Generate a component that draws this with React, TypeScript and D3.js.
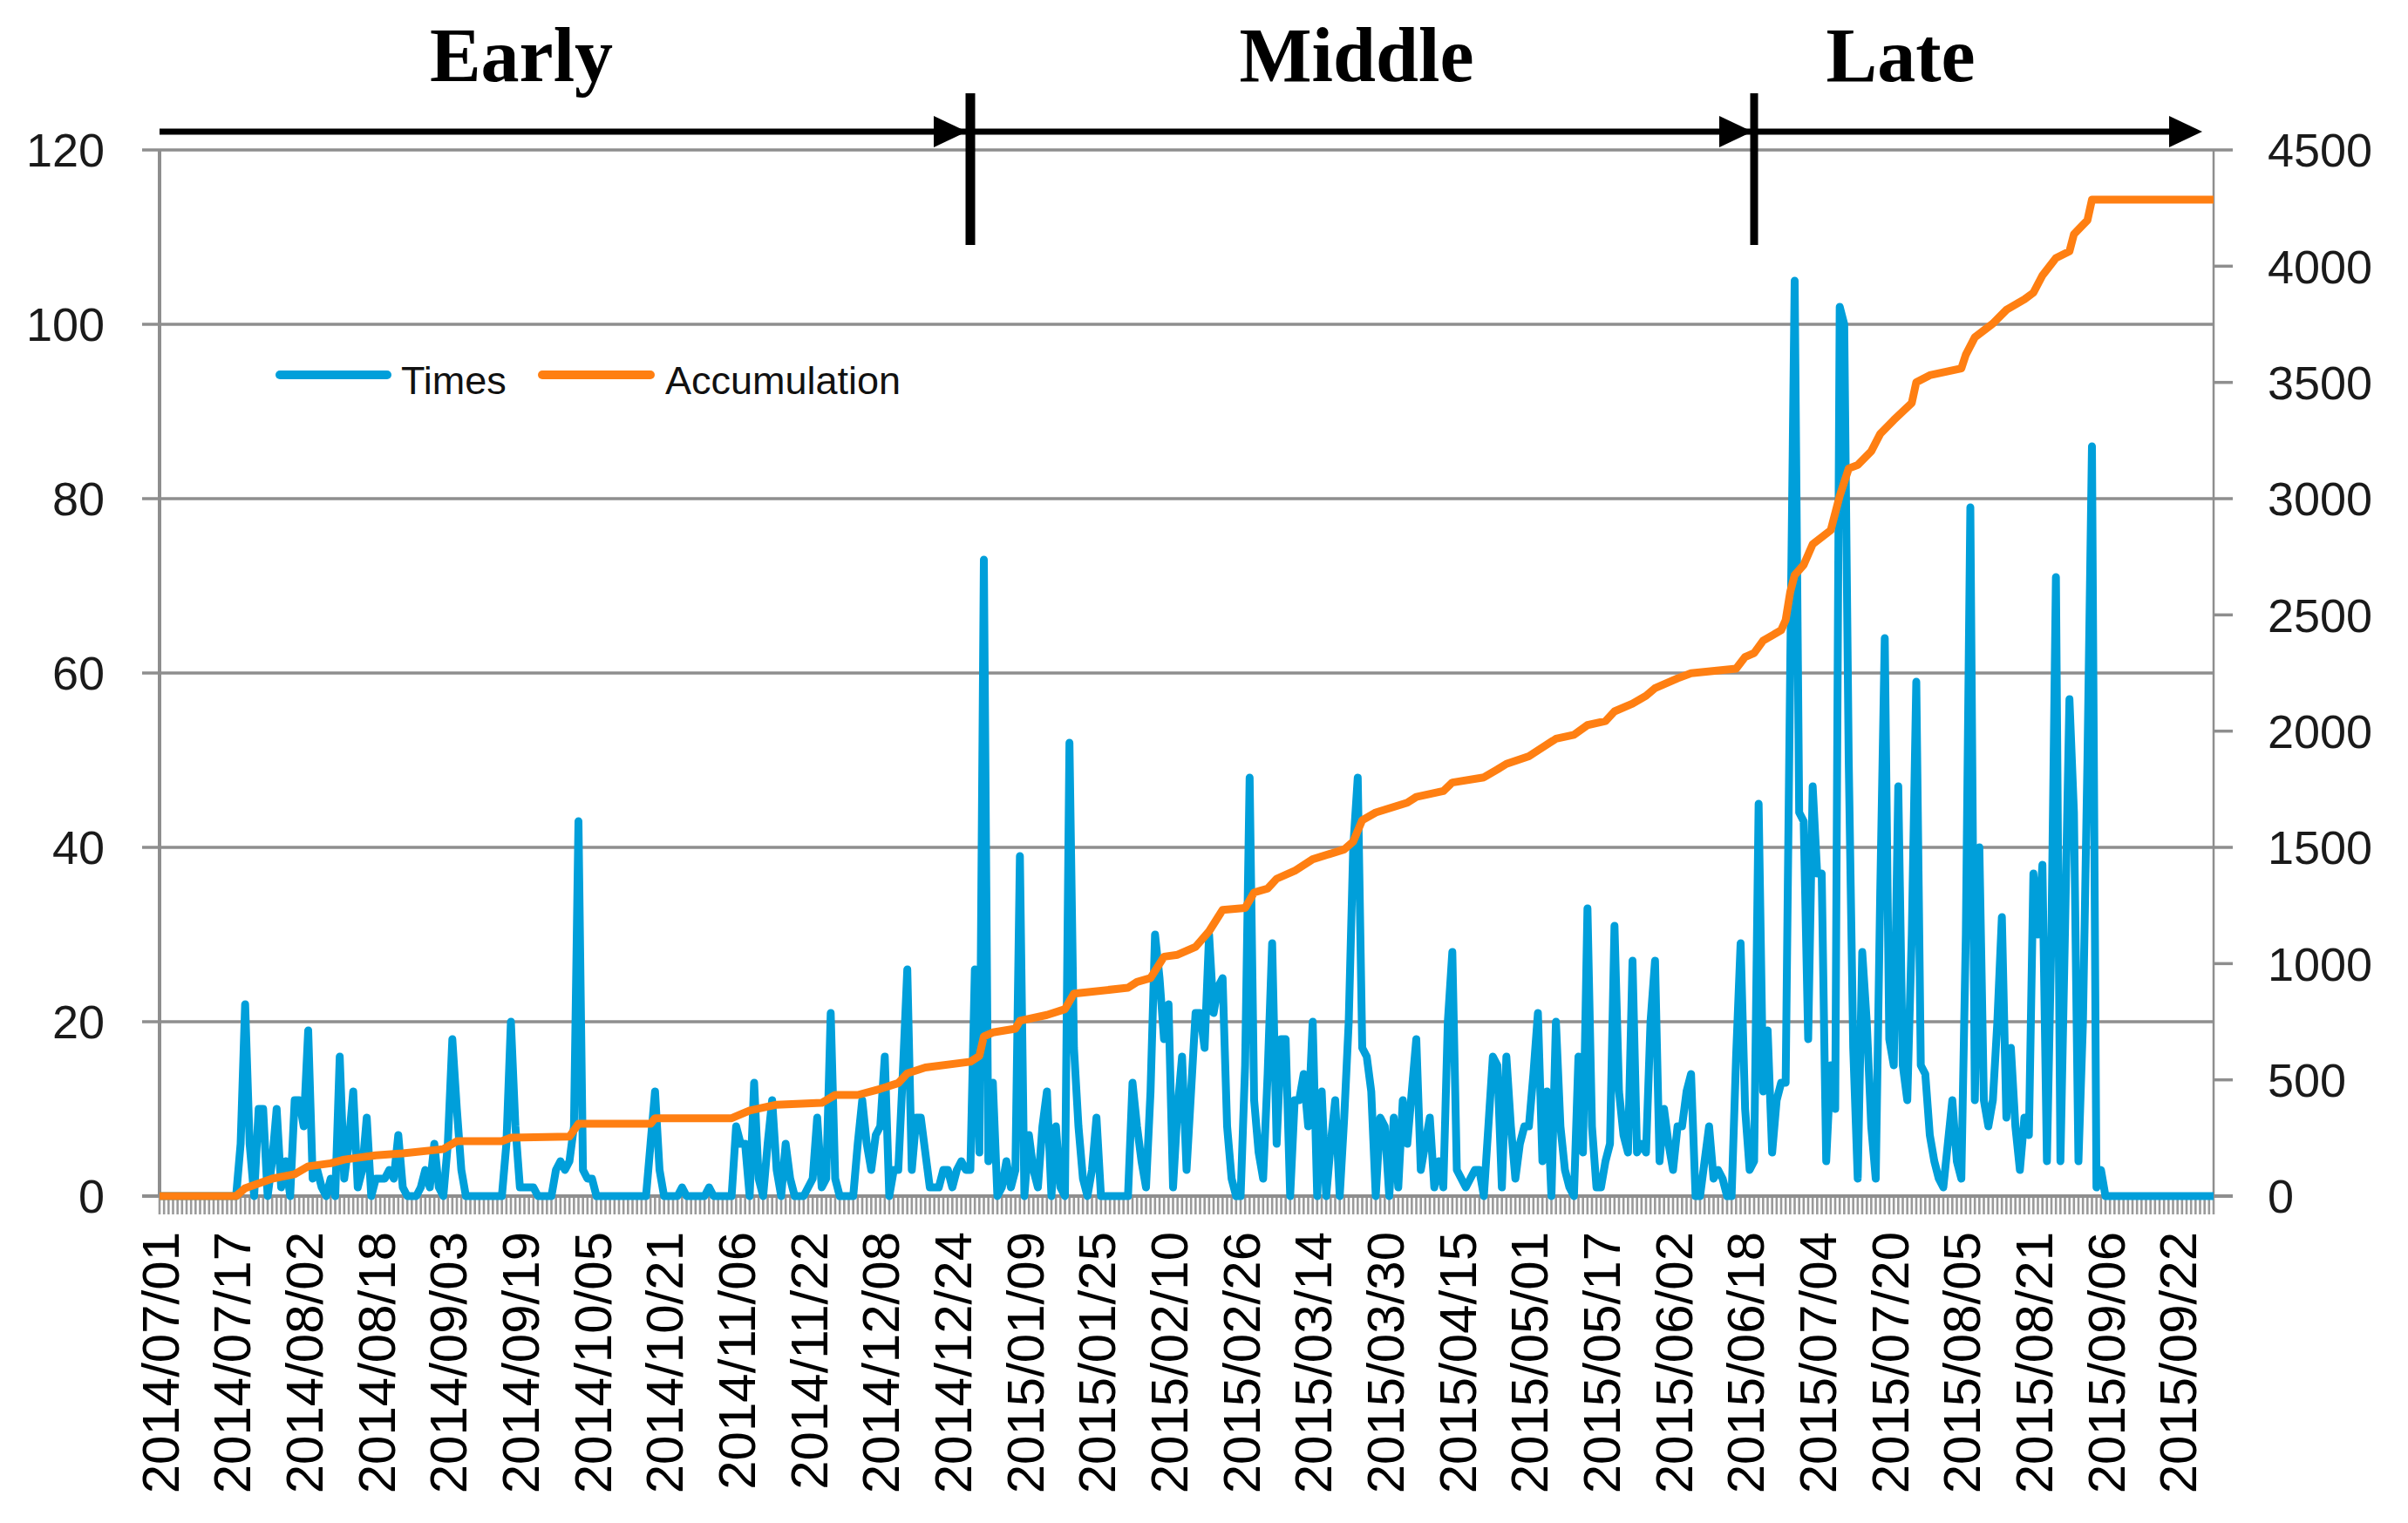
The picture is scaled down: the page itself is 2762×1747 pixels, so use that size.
import React from 'react';
import * as d3 from 'd3';

// ---------- data ----------
const startDate = '2014/07/01';

// daily "Times" values, 2014/07/01 .. 2015/09/30 (457 days)
const times: number[] = [
  0, 0, 0, 0, 0, 0, 0, 0, 0, 0,
  0, 0, 0, 0, 0, 0, 0, 0, 6, 22,
  6, 0, 10, 10, 0, 4, 10, 1, 4, 0,
  11, 11, 8, 19, 2, 3, 1, 0, 2, 0,
  16, 2, 6, 12, 1, 3, 9, 0, 2, 2,
  2, 3, 2, 7, 1, 0, 0, 0, 1, 3,
  1, 6, 1, 0, 6, 18, 10, 3, 0, 0,
  0, 0, 0, 0, 0, 0, 0, 6, 20, 8,
  1, 1, 1, 1, 0, 0, 0, 0, 3, 4,
  3, 4, 8, 43, 3, 2, 2, 0, 0, 0,
  0, 0, 0, 0, 0, 0, 0, 0, 0, 6,
  12, 3, 0, 0, 0, 0, 1, 0, 0, 0,
  0, 0, 1, 0, 0, 0, 0, 0, 8, 6,
  6, 0, 13, 2, 0, 6, 11, 3, 0, 6,
  2, 0, 0, 0, 1, 2, 9, 1, 2, 21,
  2, 0, 0, 0, 0, 6, 11, 6, 3, 7,
  8, 16, 0, 3, 3, 14, 26, 3, 9, 9,
  5, 1, 1, 1, 3, 3, 1, 3, 4, 3,
  3, 26, 5, 73, 4, 13, 0, 1, 4, 1,
  3, 39, 0, 7, 3, 1, 8, 12, 0, 8,
  1, 0, 52, 17, 8, 2, 0, 3, 9, 0,
  0, 0, 0, 0, 0, 0, 13, 8, 4, 1,
  12, 30, 25, 18, 22, 1, 10, 16, 3, 12,
  21, 21, 17, 30, 21, 24, 25, 8, 2, 0,
  0, 15, 48, 11, 5, 2, 14, 29, 6, 18,
  18, 0, 11, 11, 14, 8, 20, 0, 12, 0,
  6, 11, 0, 9, 20, 40, 48, 17, 16, 12,
  0, 9, 8, 0, 9, 1, 11, 6, 12, 18,
  3, 6, 9, 1, 4, 1, 20, 28, 3, 2,
  1, 2, 3, 3, 0, 8, 16, 15, 1, 16,
  8, 2, 6, 8, 8, 14, 21, 4, 12, 0,
  20, 8, 3, 1, 0, 16, 5, 33, 8, 1,
  1, 4, 6, 31, 12, 7, 5, 27, 5, 6,
  5, 20, 27, 4, 10, 6, 3, 8, 8, 12,
  14, 0, 0, 4, 8, 2, 3, 2, 0, 0,
  16, 29, 10, 3, 4, 45, 12, 19, 5, 11,
  13, 13, 60, 105, 44, 43, 18, 47, 37, 37,
  4, 15, 10, 102, 100, 50, 17, 2, 28, 20,
  8, 2, 35, 64, 18, 15, 47, 15, 11, 30,
  59, 15, 14, 7, 4, 2, 1, 6, 11, 4,
  2, 30, 79, 11, 40, 11, 8, 11, 20, 32,
  9, 17, 8, 3, 9, 7, 37, 30, 38, 4,
  30, 71, 4, 30, 57, 44, 4, 20, 50, 86,
  1, 3, 0, 0, 0, 0, 0, 0, 0, 0,
  0, 0, 0, 0, 0, 0, 0, 0, 0, 0,
  0, 0, 0, 0, 0, 0, 0,
];

// "Accumulation": day index (from start date) and value
const accDay: number[] = [
  0, 17, 19, 25, 30, 33, 38, 41, 48, 54, 63, 66, 76, 78, 91, 93, 109, 110, 127, 131,
  137, 147, 150, 155, 160, 164, 166, 170, 180, 182, 183, 185, 190, 191, 197, 201, 203, 215, 217, 220,
  223, 226, 230, 233, 236, 241, 243, 246, 248, 252, 256, 263, 265, 267, 270, 277, 279, 285, 287, 294,
  297, 299, 304, 306, 310, 314, 317, 321, 323, 327, 330, 332, 337, 340, 350, 352, 354, 356, 360, 361,
  362, 363, 365, 367, 369, 371, 373, 375, 377, 380, 382, 385, 389, 390, 393, 400, 401, 403, 407, 410,
  414, 416, 418, 421, 424, 425, 428, 429, 456,
];
const accValue: number[] = [
  0, 0, 34, 75, 94, 128, 141, 157, 175, 184, 202, 236, 236, 251, 256, 311, 311, 335, 335, 368,
  393, 401, 435, 435, 461, 486, 528, 553, 578, 603, 687, 704, 720, 754, 779, 804, 871, 896, 921, 938,
  1030, 1038, 1072, 1139, 1231, 1239, 1306, 1323, 1365, 1399, 1449, 1491, 1525, 1617, 1650, 1692, 1717, 1742, 1779, 1801,
  1835, 1859, 1892, 1917, 1967, 1984, 2026, 2043, 2085, 2118, 2152, 2185, 2227, 2249, 2269, 2319, 2336, 2389, 2434, 2478,
  2597, 2671, 2715, 2804, 2834, 2864, 3012, 3130, 3145, 3204, 3279, 3338, 3412, 3501, 3531, 3560, 3619, 3694, 3753, 3812,
  3857, 3886, 3960, 4035, 4064, 4138, 4198, 4286, 4286,
];

const tickLabels: string[] = [
  '2014/07/01', '2014/07/17', '2014/08/02', '2014/08/18', '2014/09/03', '2014/09/19',
  '2014/10/05', '2014/10/21', '2014/11/06', '2014/11/22', '2014/12/08', '2014/12/24',
  '2015/01/09', '2015/01/25', '2015/02/10', '2015/02/26', '2015/03/14', '2015/03/30',
  '2015/04/15', '2015/05/01', '2015/05/17', '2015/06/02', '2015/06/18', '2015/07/04',
  '2015/07/20', '2015/08/05', '2015/08/21', '2015/09/06', '2015/09/22',
];

const leftTicks = [0, 20, 40, 60, 80, 100, 120];
const rightTicks = [0, 500, 1000, 1500, 2000, 2500, 3000, 3500, 4000, 4500];

const seriesNames = ['Times', 'Accumulation'];
const phaseLabels = ['Early', 'Middle', 'Late'];
const phaseBoundaryDays = [180, 354];

// ---------- layout ----------
const W = 2762;
const H = 1747;
const X0 = 183;
const X1 = 2539;
const YT = 172;
const YB = 1372;
const BLUE = '#009FDA';
const ORANGE = '#FF7F12';
const GRID = '#8e8e8e';

const parse = d3.utcParse('%Y/%m/%d');
const fmt = d3.utcFormat('%Y/%m/%d');
const start = parse(startDate) as Date;
const dates = times.map((_, i) => fmt(d3.utcDay.offset(start, i)));

export default function App() {
  const x = d3.scalePoint<string>().domain(dates).range([X0, X1]);
  const yL = d3.scaleLinear().domain([0, 120]).range([YB, YT]);
  const yR = d3.scaleLinear().domain([0, 4500]).range([YB, YT]);

  const timesLine = d3
    .line<number>()
    .x((_, i) => x(dates[i]) as number)
    .y((d) => yL(d))
    .curve(d3.curveLinear);
  const accLine = d3
    .line<number>()
    .x((_, i) => x(dates[accDay[i]]) as number)
    .y((d) => yR(d));

  const arrowY = 151;
  const sepXs = phaseBoundaryDays.map((d) => x(dates[d]) as number);
  const arrowEnd = 2526;
  const arrowTips = [sepXs[0] - 4, sepXs[1] - 2, arrowEnd];
  const labelXs = [598, 1556, 2180];

  const sansFont = "'Liberation Sans', Arial, sans-serif";

  return (
    <svg
      width={W}
      height={H}
      viewBox={`0 0 ${W} ${H}`}
      style={{ position: 'absolute', left: 0, top: 0, background: '#fff' }}
    >
      <rect x={0} y={0} width={W} height={H} fill="#fff" />

      {/* gridlines & left ticks */}
      {leftTicks.map((t) => (
        <line key={'g' + t} x1={X0 - 20} x2={X1} y1={yL(t)} y2={yL(t)} stroke={GRID} strokeWidth={3.5} />
      ))}
      {/* right ticks */}
      {rightTicks.map((t) => (
        <line key={'r' + t} x1={X1} x2={X1 + 22} y1={yR(t)} y2={yR(t)} stroke={GRID} strokeWidth={3.5} />
      ))}
      {/* daily ticks under the axis */}
      {dates.map((d) => (
        <line key={'d' + d} x1={x(d)} x2={x(d)} y1={YB} y2={YB + 21} stroke="#9a9a9a" strokeWidth={2.6} />
      ))}
      {/* axes */}
      <line x1={X0} x2={X0} y1={YT} y2={YB} stroke={GRID} strokeWidth={4} />
      <line x1={X1} x2={X1} y1={YT} y2={YB} stroke={GRID} strokeWidth={2.5} />
      <line x1={X0 - 20} x2={X1 + 22} y1={YB} y2={YB} stroke={GRID} strokeWidth={4} />

      {/* series */}
      <path d={timesLine(times) || ''} fill="none" stroke={BLUE} strokeWidth={9} strokeLinejoin="round" />
      <path d={accLine(accValue) || ''} fill="none" stroke={ORANGE} strokeWidth={9} strokeLinejoin="round" />

      {/* left tick labels */}
      {leftTicks.map((t) => (
        <text key={'lt' + t} x={120} y={yL(t)} dy="0.36em" textAnchor="end" fontFamily={sansFont} fontSize={54} fill="#1a1a1a">
          {t}
        </text>
      ))}
      {/* right tick labels */}
      {rightTicks.map((t) => (
        <text key={'rt' + t} x={2601} y={yR(t)} dy="0.36em" textAnchor="start" fontFamily={sansFont} fontSize={54} fill="#1a1a1a">
          {t}
        </text>
      ))}
      {/* x tick labels */}
      {tickLabels.map((lab) => (
        <text
          key={'xt' + lab}
          transform={`translate(${x(lab)},1413) rotate(-90)`}
          dy="0.36em"
          textAnchor="end"
          fontFamily={sansFont}
          fontSize={60}
          fill="#000"
        >
          {lab}
        </text>
      ))}

      {/* legend */}
      <line x1={321} x2={444} y1={430} y2={430} stroke={BLUE} strokeWidth={10} strokeLinecap="round" />
      <text x={460} y={452} fontFamily={sansFont} fontSize={45} fill="#111">{seriesNames[0]}</text>
      <line x1={622} x2={746} y1={430} y2={430} stroke={ORANGE} strokeWidth={10} strokeLinecap="round" />
      <text x={763} y={452} fontFamily={sansFont} fontSize={45} fill="#111">{seriesNames[1]}</text>

      {/* phase annotation */}
      <line x1={X0} x2={arrowEnd - 20} y1={arrowY} y2={arrowY} stroke="#000" strokeWidth={7} />
      {arrowTips.map((tx, i) => (
        <path key={'ah' + i} d={`M${tx},${arrowY} L${tx - 38},${arrowY - 18} L${tx - 38},${arrowY + 18} Z`} fill="#000" />
      ))}
      {sepXs.map((sx, i) => (
        <line key={'sep' + i} x1={sx} x2={sx} y1={107} y2={281} stroke="#000" strokeWidth={i === 0 ? 11 : 9} />
      ))}
      {phaseLabels.map((lab, i) => (
        <text
          key={'ph' + lab}
          x={labelXs[i]}
          y={93}
          textAnchor="middle"
          fontFamily="'Liberation Serif', 'Times New Roman', serif"
          fontWeight="bold"
          fontSize={88}
          fill="#000"
        >
          {lab}
        </text>
      ))}
    </svg>
  );
}
